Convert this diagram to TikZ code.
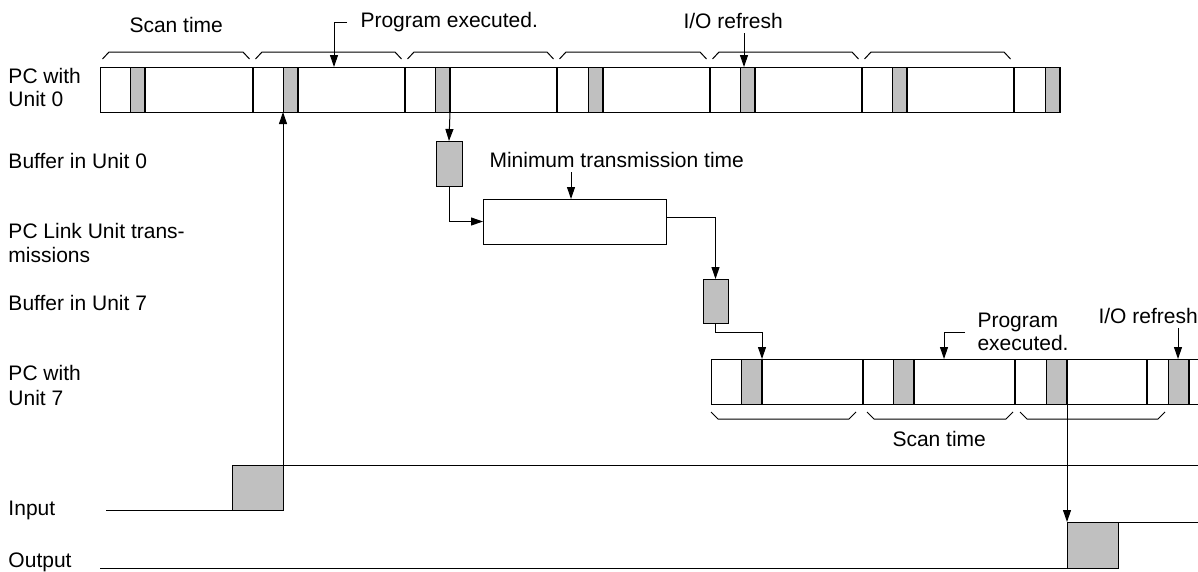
\documentclass[tikz,border=0pt]{standalone}
\usepackage{fontspec}
\setmainfont{Liberation Sans}
\usetikzlibrary{arrows.meta}
\definecolor{gfill}{HTML}{C0C0C0}
\begin{document}
\begin{tikzpicture}[x=1pt,y=-1pt, line width=1pt,
  lbl/.style={anchor=base west, inner sep=0pt, font=\fontsize{21}{24}\selectfont},
  arr/.style={-{Triangle[length=12pt,width=8pt]}},
  gbox/.style={draw, fill=gfill, line width=1pt, inner sep=0pt, outer sep=0pt},
  wbox/.style={draw, fill=white, line width=1pt, inner sep=0pt, outer sep=0pt},
  divline/.style={line width=1.4pt},
  braceline/.style={line width=1pt}]
\useasboundingbox (0,0) rectangle (1198,571);

% ---- left labels ----
\node[lbl] (l1a) at (8,83) {PC with};
\node[lbl] (l1b) at (8,106) {Unit 0};
\node[lbl] (l2) at (8,168) {Buffer in Unit 0};
\node[lbl] (l3a) at (8,238) {PC Link Unit trans-};
\node[lbl] (l3b) at (8,262) {missions};
\node[lbl] (l4) at (8,310) {Buffer in Unit 7};
\node[lbl] (l5a) at (8,380) {PC with};
\node[lbl] (l5b) at (8,405) {Unit 7};
\node[lbl] (l6) at (8,515) {Input};
\node[lbl] (l7) at (8,567) {Output};

% ---- top labels ----
\node[lbl] (st1) at (129,32) {Scan time};
\node[lbl] (pe1) at (360,27) {Program executed.};
\node[lbl] (io1) at (683,28) {I/O refresh};
\node[lbl] (mt) at (489,167) {Minimum transmission time};
\node[lbl] (pe2a) at (977,327) {Program};
\node[lbl] (pe2b) at (977,350) {executed.};
\node[lbl] (io2) at (1098,323) {I/O refresh};
\node[lbl] (st2) at (892,446) {Scan time};

% ---- top bar (PC with Unit 0) ----
\draw (100,67) rectangle (1060,112);
\foreach \x in {130,283,435,588,740,892,1045} {
  \draw[fill=gfill] (\x,67) rectangle ++(15,45);
  \draw[divline] (\x+15,67) -- ++(0,45);
}
\foreach \x in {253,405,557,710,862,1014}
  \draw[divline] (\x,67) -- ++(0,45);
\foreach \a/\b in {100/253,253/405,405/557,557/710,710/862,862/1014}
  \draw[braceline] (\a+2.5,59) -- (\a+9,52) -- (\b-10,52) -- (\b-3.5,59);

% ---- bottom bar (PC with Unit 7) ----
\draw (1198,359) -- (711,359) -- (711,404) -- (1198,404);
\foreach \x in {741,893,1046,1168} {
  \draw[fill=gfill] (\x,359) rectangle ++(21,45);
  \draw[divline] (\x+21,359) -- ++(0,45);
}
\foreach \x in {863,1015,1147}
  \draw[divline] (\x,359) -- ++(0,45);
\foreach \a/\b in {711/856,867/1013,1020/1165}
  \draw[braceline] (\a,412) -- (\a+7,419) -- (\b-7,419) -- (\b,412);

% ---- boxes ----
\node[gbox, minimum width=26pt, minimum height=45pt] (buf0) at (449,163.5) {};
\node[wbox, minimum width=183pt, minimum height=45pt] (trans) at (574.5,221.5) {};
\node[gbox, minimum width=25pt, minimum height=44pt] (buf7) at (715.5,301) {};
\node[gbox, minimum width=51pt, minimum height=45pt, anchor=north west] (inpulse) at (232,465) {};
\node[gbox, minimum width=51pt, minimum height=46pt, anchor=north west] (outpulse) at (1067,522) {};

% ---- coordinates ----
\coordinate (bar0in) at (283,112);
\coordinate (bar0out) at (450,112);
\coordinate (pe1s) at (347,22);
\coordinate (pe1t) at (334,67);
\coordinate (io1s) at (744,33);
\coordinate (io1t) at (744,67);
\coordinate (mts) at (571,172);
\coordinate (b7in) at (762,359);
\coordinate (pe2s) at (965,332);
\coordinate (pe2t) at (944,359);
\coordinate (io2s) at (1178,328);
\coordinate (io2t) at (1178,359);
\coordinate (bar7out) at (1067,404);
\coordinate (inL) at (106,510);
\coordinate (inR) at (1198,465);
\coordinate (outL) at (100,568);
\coordinate (outR) at (1198,522);

% ---- signals ----
\draw (inL) -- (inpulse.south west);
\draw (inpulse.north east) -- (inR);
\draw (outL) -- (outpulse.south west);
\draw (outpulse.north east) -- (outR);

% ---- connectors ----
\draw[arr] (inpulse.north east) -- (bar0in);
\draw[arr] (bar0out) -- (buf0.north);
\draw[arr] (buf0.south) |- (trans.west);
\draw[arr] (mts) -- (mts |- trans.north);
\draw[arr] ([yshift=4.5pt]trans.east) -| (buf7.north);
\draw[arr] (buf7.south) -- ++(0,9) -| (b7in);
\draw[arr] (pe1s) -| (pe1t);
\draw[arr] (io1s) -- (io1t);
\draw[arr] (pe2s) -| (pe2t);
\draw[arr] (io2s) -- (io2t);
\draw[arr] (bar7out) -- (outpulse.north west);
\end{tikzpicture}
\end{document}
